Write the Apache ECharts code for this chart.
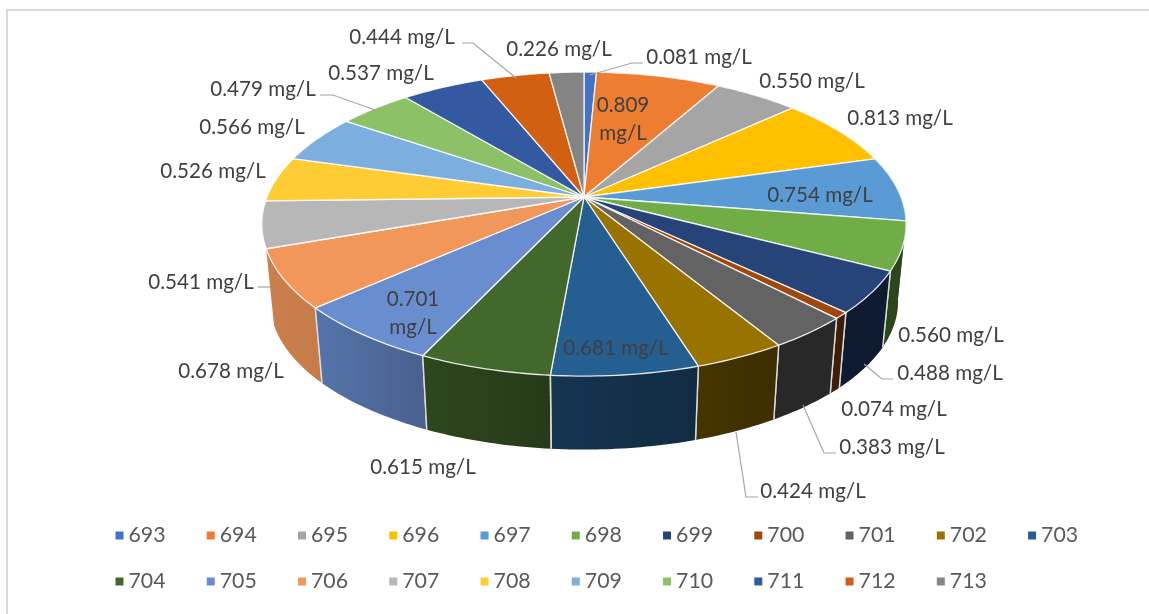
<!DOCTYPE html>
<html><head><meta charset="utf-8">
<script src="https://cdn.jsdelivr.net/npm/echarts@6/dist/echarts.min.js"></script>
<style>html,body{margin:0;padding:0;background:#fff}#c{width:1149px;height:614px}</style>
</head><body><div id="c"></div>
<script>
const categories = ['693','694','695','696','697','698','699','700','701','702','703','704','705','706','707','708','709','710','711','712','713'];
const values = [0.081,0.809,0.550,0.813,0.754,0.560,0.488,0.074,0.383,0.424,0.681,0.615,0.701,0.678,0.541,0.526,0.566,0.479,0.537,0.444,0.226];
const colors = ['#4472C4','#ED7D31','#A5A5A5','#FFC000','#5B9BD5','#70AD47','#264478','#9E480E','#636363','#997300','#255E91','#43682B','#698ED0','#F1975A','#B7B7B7','#FFCD33','#7CAFDD','#8CC168','#335AA1','#D26012','#848484'];
// label text anchors (one or two lines), and leader lines
const labelPos = [[699,57],[623,119],[812,81],[900,118],[820,195],[951,335],[950,373],[894,409],[892,447],[813,491],[616,348],[423,467],[413,313],[231,371],[201,282],[213,171],[252,127],[263,89],[381,73],[402,37],[559,49]];
const twoLine = {1:1,12:1};
const leaders = {0:[[590,75],[632,63],[643,63]],6:[[864,364],[882,379],[893,379]],8:[[803,405],[824,453],[836,453]],9:[[736,432],[746,497],[758,497]],13:[[258,287],[270,287]],19:[[516,78],[473,43],[462,43]],17:[[375,110],[333,95],[320,95]]};
// projection of the disc
const cx=584, cy=197, R=317, B=147.2, K=0.178, drop=78, sc=0.975;
const total = values.reduce((a,b)=>a+b,0);
function pt(deg, lower){
  const t=deg*Math.PI/180, X=Math.sin(t), Y=-Math.cos(t), w=1/(1-K*Y);
  const x=R*X*w, y=B*Y*w;
  return lower ? [cx+x*sc, cy+drop+y*sc] : [cx+x, cy+y];
}
const shadeKeys=[[0,.4],[150,.4],[163,.46],[185,.56],[205,.68],[228,.82],[251,.84],[360,.84]];
function shade(d){
  for(let i=1;i<shadeKeys.length;i++){
    if(d<=shadeKeys[i][0]){const a=shadeKeys[i-1],b=shadeKeys[i];return a[1]+(b[1]-a[1])*(d-a[0])/(b[0]-a[0]);}
  }
  return .84;
}
function dark(hex,f){
  const n=parseInt(hex.slice(1),16);
  return 'rgb('+[(n>>16)&255,(n>>8)&255,n&255].map(v=>Math.round(v*f)).join(',')+')';
}
function arc(a0,a1,lower){
  const p=[],n=Math.max(2,Math.ceil((a1-a0)));
  for(let i=0;i<=n;i++)p.push(pt(a0+(a1-a0)*i/n,lower));
  return p;
}
const FONT='20.6px Lato, "Open Sans", sans-serif';
function renderSlice(idx){
  return function(params,api){
    const v=api.value(0);
    let before=0; for(let i=0;i<idx;i++)before+=values[i];
    const a0=before/total*360, a1=(before+v)/total*360;
    const top=arc(a0,a1,false), bot=arc(a0,a1,true);
    const ch=[];
    const midY=-Math.cos((a0+a1)/2*Math.PI/180);
    const z=10+midY*10;
    const leftColor=dark(colors[idx],shade(a1)), rightColor=dark(colors[idx],shade(a0));
    if(a0<250){
      ch.push({type:'polygon',z2:z,shape:{points:top.concat(bot.slice().reverse())},
        style:{fill:{type:'linear',x:0,y:0,x2:1,y2:0,colorStops:[{offset:0,color:leftColor},{offset:1,color:rightColor}]},stroke:null}});
    }
    [[a0],[a1]].forEach(function(a){
      const y=-Math.cos(a[0]*Math.PI/180);
      if(y>0.05 && a[0]>110 && a[0]<250) ch.push({type:'polyline',z2:z+.5,shape:{points:[pt(a[0],false),pt(a[0],true)]},style:{fill:null,stroke:'#dcdcdc',lineWidth:1.4}});
    });
    ch.push({type:'polygon',z2:100,shape:{points:[[cx,cy]].concat(top)},
      style:{fill:colors[idx],stroke:'rgba(255,255,255,0.85)',lineWidth:1.3,lineJoin:'round'}});
    if(leaders[idx]) ch.push({type:'polyline',z2:150,shape:{points:leaders[idx]},style:{fill:null,stroke:'#a6a6a6',lineWidth:1.2}});
    const lp=labelPos[idx], s=v.toFixed(3);
    if(twoLine[idx]){
      ch.push({type:'text',z2:200,style:{text:s,x:lp[0],y:lp[1]-14,fill:'#404040',font:FONT,align:'center',verticalAlign:'middle'}});
      ch.push({type:'text',z2:200,style:{text:'mg/L',x:lp[0],y:lp[1]+14,fill:'#404040',font:FONT,align:'center',verticalAlign:'middle'}});
    } else {
      ch.push({type:'text',z2:200,style:{text:s+' mg/L',x:lp[0],y:lp[1],fill:'#404040',font:FONT,align:'center',verticalAlign:'middle'}});
    }
    return {type:'group',children:ch};
  };
}
function legendRow(names,top){
  return {data:names,left:110.5,top:top,orient:'horizontal',icon:'rect',itemWidth:8,itemHeight:8,itemGap:41.2,selectedMode:false,
    textStyle:{color:'#595959',fontFamily:'Lato, "Open Sans", sans-serif',fontSize:21.3}};
}
const chart=echarts.init(document.getElementById('c'),null,{renderer:'canvas'});
chart.setOption({
  animation:false,
  backgroundColor:'#ffffff',
  legend:[legendRow(categories.slice(0,11),520),legendRow(categories.slice(11),566)],
  graphic:[
    {type:'line',shape:{x1:6,y1:10,x2:1149,y2:10},style:{stroke:'#d9d9d9',lineWidth:2}},
    {type:'line',shape:{x1:7,y1:10,x2:7,y2:614},style:{stroke:'#d9d9d9',lineWidth:2}}
  ],
  series:categories.map(function(name,i){
    return {type:'custom',name:name,coordinateSystem:'none',silent:true,
      itemStyle:{color:colors[i]},data:[[values[i]]],renderItem:renderSlice(i)};
  })
});
</script></body></html>
